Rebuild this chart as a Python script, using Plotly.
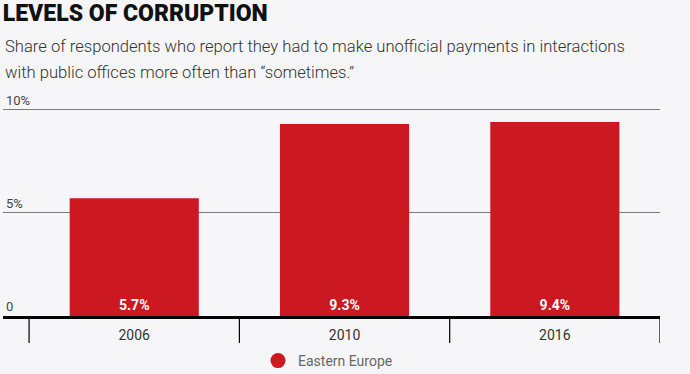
import plotly.graph_objects as go

categories = ["2006", "2010", "2016"]
values = [5.7, 9.3, 9.4]
value_labels = ["5.7%", "9.3%", "9.4%"]
y_tick_vals = [0, 5, 10]
y_tick_text = ["0", "5%", "10%"]
series_name = "Eastern Europe"

RED = "#cc1820"
BG = "#f6f6f8"
W, H = 690, 374
Y_MAX = 11.0
PX_PER_UNIT = 20.6
ZERO_PX = 316
ML, MR = 3, 30
MB = H - ZERO_PX
MT = round(ZERO_PX - Y_MAX * PX_PER_UNIT)
plot_h = H - MT - MB

def py(px):
    return (H - MB - px) / plot_h

fig = go.Figure()
fig.add_trace(go.Bar(
    x=categories, y=values, text=value_labels,
    marker=dict(color=RED, line=dict(width=0)),
    width=0.614,
    textposition="inside", insidetextanchor="start",
    textfont=dict(color="white", size=14, family="Roboto", weight="bold"),
    showlegend=False, hoverinfo="skip",
))
fig.add_trace(go.Scatter(
    x=[None], y=[None], mode="markers", name=series_name,
    marker=dict(color=RED, size=15, symbol="circle"),
))

shapes = []
for i in range(len(categories) + 1):
    shapes.append(dict(type="line", xref="x", yref="paper",
                       x0=i - 0.5, x1=i - 0.5, y0=0, y1=py(343),
                       line=dict(color="black", width=1.2), layer="above"))

sub_font = dict(family="Roboto", size=16.6, color="#333", weight=300)
annotations = [
    dict(text="Share of respondents who report they had to make unofficial payments in interactions",
         xref="paper", yref="paper", x=0, y=py(47), xanchor="left", yanchor="middle",
         showarrow=False, font=sub_font),
    dict(text="with public offices more often than “sometimes.”",
         xref="paper", yref="paper", x=0, y=py(73), xanchor="left", yanchor="middle",
         showarrow=False, font=sub_font),
]

fig.update_layout(
    width=W, height=H,
    margin=dict(l=ML, r=MR, t=MT, b=MB),
    paper_bgcolor=BG, plot_bgcolor=BG,
    title=dict(text="LEVELS OF CORRUPTION", x=0.004, xanchor="left",
               y=1 - 13 / H, yanchor="middle", yref="container",
               font=dict(family="Roboto", size=23, color="#111", weight=900)),
    shapes=shapes, annotations=annotations,
    legend=dict(orientation="h", x=(258 - ML) / (W - ML - MR), xanchor="left",
                yref="container", y=1 - 361 / H, yanchor="middle",
                font=dict(family="Roboto", size=14, color="#666"),
                bgcolor="rgba(0,0,0,0)"),
    xaxis=dict(range=[-0.624, 2.5], showgrid=False, showline=True,
               linecolor="black", linewidth=2.5, ticks="",
               tickfont=dict(family="Roboto", size=14, color="#333"),
               ticklabelstandoff=4, fixedrange=True),
    yaxis=dict(range=[0, Y_MAX], tickvals=y_tick_vals, ticktext=y_tick_text,
               showgrid=True, gridcolor="#7a7a7a", gridwidth=1,
               zeroline=False, showline=False, ticks="",
               ticklabelposition="inside top",
               tickfont=dict(family="Roboto", size=13, color="#444"),
               fixedrange=True),
    bargap=0.386,
)

fig.write_html("out.html", config={"displayModeBar": False},
               post_script="document.body.style.margin='0';")
